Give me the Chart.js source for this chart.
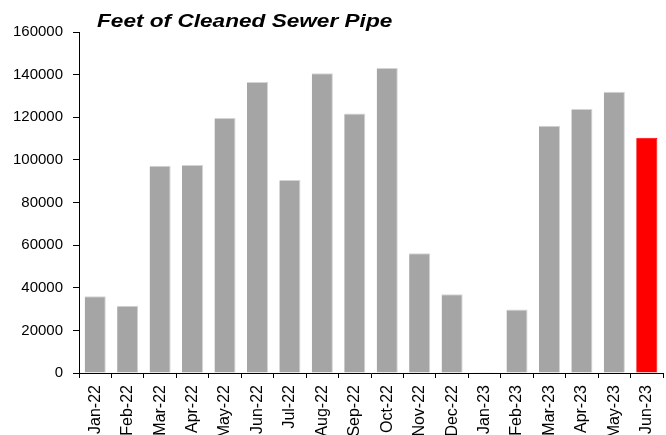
<!DOCTYPE html>
<html>
<head>
<meta charset="utf-8">
<script src="https://cdn.jsdelivr.net/npm/chart.js@4"></script>
<style>
    body { margin: 0; background: #fff; }
    canvas { display: block; }
</style>
</head>
<body>
<canvas id="myChart" width="666" height="435"></canvas>
<script>
const chartTitle = 'Feet of Cleaned Sewer Pipe';
const months = ['Jan-22', 'Feb-22', 'Mar-22', 'Apr-22', 'May-22', 'Jun-22', 'Jul-22', 'Aug-22', 'Sep-22',
    'Oct-22', 'Nov-22', 'Dec-22', 'Jan-23', 'Feb-23', 'Mar-23', 'Apr-23', 'May-23', 'Jun-23'];
const feet = [36000, 31500, 97200, 97600, 119600, 136500, 90600, 140600, 121800,
    143100, 56200, 37000, 400, 29800, 116000, 123900, 132000, 110400];
const yMax = 160000;
const yStep = 20000;

// the last month is highlighted
const lastIndex = months.length - 1;

const titlePlugin = {
    id: 'ustBaslik',
    afterDraw(chart) {
        const ctx = chart.ctx;
        ctx.save();
        ctx.translate(chart.chartArea.left + 18, 27);
        ctx.scale(1.19, 1);
        ctx.font = 'italic bold 19px "Liberation Sans", Arial, sans-serif';
        ctx.fillStyle = '#000';
        ctx.textBaseline = 'alphabetic';
        ctx.fillText(chartTitle, 0, 0);
        ctx.restore();
    }
};

Chart.defaults.font.family = '"Liberation Sans", Arial, sans-serif';
Chart.defaults.color = '#000';

const ctx = document.getElementById('myChart').getContext('2d');
const chart = new Chart(ctx, {
    type: 'bar',
    data: {
        labels: months,
        datasets: [{
            data: feet,
            backgroundColor: months.map((m, i) => i === lastIndex ? '#ff0000' : '#a5a5a5'),
            borderColor: months.map((m, i) => i === lastIndex ? '#ff0000' : '#d4d4d4'),
            borderWidth: { top: 1, right: 1, left: 0, bottom: 0 },
            borderSkipped: false,
            barPercentage: 0.65,
            categoryPercentage: 1
        }]
    },
    options: {
        responsive: false,
        animation: false,
        layout: { padding: { top: 32, right: 3, left: 0, bottom: 0 } },
        plugins: {
            legend: { display: false },
            title: { display: false },
            tooltip: { enabled: false }
        },
        scales: {
            x: {
                grid: {
                    drawOnChartArea: false,
                    drawTicks: true,
                    tickLength: 5,
                    color: '#000',
                    offset: true
                },
                border: { display: true, color: '#000', width: 1 },
                ticks: {
                    autoSkip: false,
                    minRotation: 90,
                    maxRotation: 90,
                    padding: 7,
                    font: { size: 16 }
                },
                afterFit(scale) {
                    scale.height = 62;
                    scale.paddingRight = 0;
                    scale.paddingLeft = 0;
                }
            },
            y: {
                min: 0,
                max: yMax,
                grid: {
                    drawOnChartArea: false,
                    drawTicks: true,
                    tickLength: 6,
                    color: '#000'
                },
                border: { display: true, color: '#000', width: 1 },
                ticks: {
                    stepSize: yStep,
                    padding: 10,
                    font: { size: 15 },
                    callback: v => String(v)
                },
                afterFit(scale) { scale.width = 79; }
            }
        }
    },
    plugins: [titlePlugin]
});
</script>
</body>
</html>
